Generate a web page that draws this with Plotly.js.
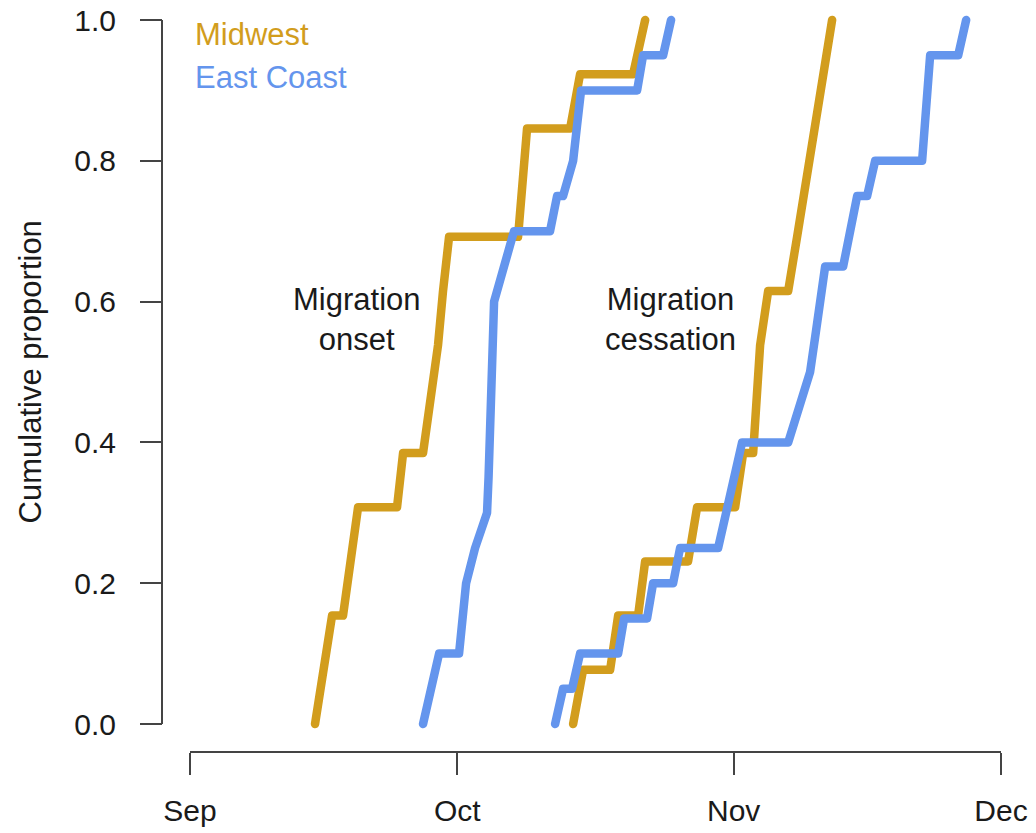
<!DOCTYPE html>
<html>
<head>
<meta charset="utf-8">
<script src="https://cdn.plot.ly/plotly-3.0.1.min.js"></script>
<style>
html, body { margin: 0; padding: 0; background: #ffffff; }
#chart { width: 1036px; height: 833px; }
.scatterlayer path.js-line { stroke-linecap: round; stroke-linejoin: round; }
</style>
</head>
<body>
<div id="chart"></div>
<script>
// Days after 1 September and cumulative proportions
const midwestOnsetDays = [14.03, 15.94, 17.17, 18.86, 23.23, 23.91, 26.15, 27.05, 27.83, 28.39, 29.07, 36.81, 37.26, 37.82, 42.65, 43.77, 49.72, 51.07];
const midwestOnsetProp = [0, 0.154, 0.154, 0.308, 0.308, 0.385, 0.385, 0.462, 0.538, 0.615, 0.692, 0.692, 0.769, 0.846, 0.846, 0.923, 0.923, 1];

const eastOnsetDays = [26.15, 27.95, 30.19, 30.98, 31.99, 33.33, 33.50, 33.61, 33.73, 33.84, 33.95, 34.12, 35.24, 36.36, 40.40, 41.19, 41.86, 42.99, 43.43, 43.88, 50.17, 50.84, 53.09, 53.98];
const eastOnsetProp = [0, 0.1, 0.1, 0.2, 0.25, 0.3, 0.35, 0.4, 0.45, 0.5, 0.55, 0.6, 0.65, 0.7, 0.7, 0.75, 0.75, 0.8, 0.85, 0.9, 0.9, 0.95, 0.95, 1];

const midwestCessDays = [42.99, 44.11, 47.14, 48.04, 50.28, 51.07, 55.89, 56.90, 61.17, 62.07, 63.19, 63.52, 63.97, 64.87, 67.12, 68.12, 69.14, 70.03, 71.04, 72.05];
const midwestCessProp = [0, 0.077, 0.077, 0.154, 0.154, 0.231, 0.231, 0.308, 0.308, 0.385, 0.385, 0.462, 0.538, 0.615, 0.615, 0.692, 0.769, 0.846, 0.923, 1];

const eastCessDays = [40.97, 41.86, 42.87, 43.77, 48.04, 48.71, 51.29, 51.96, 54.21, 54.99, 59.26, 60.16, 61.05, 61.95, 67.12, 68.46, 69.58, 70.15, 70.71, 71.27, 73.29, 74.07, 74.86, 75.98, 76.88, 82.15, 82.49, 82.83, 83.05, 86.20, 87.09];
const eastCessProp = [0, 0.05, 0.05, 0.1, 0.1, 0.15, 0.15, 0.2, 0.2, 0.25, 0.25, 0.3, 0.35, 0.4, 0.4, 0.45, 0.5, 0.55, 0.6, 0.65, 0.65, 0.7, 0.75, 0.75, 0.8, 0.8, 0.85, 0.9, 0.95, 0.95, 1];

const monthTicks = ['2015-09-01', '2015-10-01', '2015-11-01', '2015-12-01'];
const monthLabels = ['Sep', 'Oct', 'Nov', 'Dec'];
const yTicks = [0, 0.2, 0.4, 0.6, 0.8, 1.0];
const yLabels = ['0.0', '0.2', '0.4', '0.6', '0.8', '1.0'];

const seriesNames = ['Midwest', 'East Coast'];
const GOLD = '#D29D1D';
const BLUE = '#6495ED';

const base = Date.UTC(2015, 8, 1);
const toDate = days => days.map(d => base + d * 86400000);

// Geometry (pixel targets)
const W = 1036, H = 833;
const px = { yAxisX: 162, xStart: 190, xEnd: 1001, xAxisY: 752, y0: 724, y1: 20, top: 9 };
const mL = px.yAxisX, mR = W - px.xEnd, mT = px.top, mB = H - px.xAxisY;
const pw = W - mL - mR, ph = H - mT - mB;
const perUnit = px.y0 - px.y1;
const yPad = 0.015;
const yBottomPx = px.y0 + yPad * perUnit;
const yDomain = [(px.xAxisY - yBottomPx) / ph, 1];
const yRange = [-yPad, (px.y0 - mT) / perUnit];
const xDomain = [(px.xStart - mL) / pw, 1];

const FONT = 'Liberation Sans, Arial, Helvetica, sans-serif';
const AX = '#444444';

function trace(days, prop, color, name) {
  return {
    type: 'scatter', mode: 'lines',
    x: toDate(days), y: prop,
    line: { color: color, width: 8.5 },
    name: name, showlegend: false, hoverinfo: 'skip'
  };
}

const data = [
  trace(midwestOnsetDays, midwestOnsetProp, GOLD, seriesNames[0]),
  trace(midwestCessDays, midwestCessProp, GOLD, seriesNames[0]),
  trace(eastOnsetDays, eastOnsetProp, BLUE, seriesNames[1]),
  trace(eastCessDays, eastCessProp, BLUE, seriesNames[1])
];

const layout = {
  width: W, height: H,
  margin: { l: mL, r: mR, t: mT, b: mB, pad: 0 },
  paper_bgcolor: '#ffffff', plot_bgcolor: '#ffffff',
  font: { family: FONT, size: 30, color: '#1a1a1a' },
  showlegend: false,
  xaxis: {
    type: 'date',
    range: ['2015-09-01', '2015-12-01'],
    domain: xDomain,
    anchor: 'free', position: 0,
    showline: true, linecolor: AX, linewidth: 2,
    ticks: 'outside', ticklen: 22, tickwidth: 2, tickcolor: AX,
    tickmode: 'array', tickvals: monthTicks, ticktext: monthLabels,
    tickfont: { family: FONT, size: 30, color: '#1a1a1a' },
    ticklabelstandoff: 10,
    showgrid: false, zeroline: false, fixedrange: true
  },
  yaxis: {
    range: yRange,
    domain: yDomain,
    anchor: 'free', position: 0,
    showline: false,
    ticks: 'outside', ticklen: 22, tickwidth: 2, tickcolor: AX,
    tickmode: 'array', tickvals: yTicks, ticktext: yLabels,
    tickfont: { family: FONT, size: 30, color: '#1a1a1a' },
    ticklabelstandoff: 18,
    showgrid: false, zeroline: false, fixedrange: true,
    title: { text: 'Cumulative proportion', font: { family: FONT, size: 31, color: '#1a1a1a' }, standoff: 22 }
  },
  shapes: [
    { type: 'line', xref: 'paper', yref: 'y', x0: 0, x1: 0, y0: 0, y1: 1,
      line: { color: AX, width: 2 } }
  ],
  annotations: [
    { text: 'Migration<br>onset', xref: 'x', yref: 'y', x: '2015-09-19 18:00', y: 0.575,
      showarrow: false, font: { family: FONT, size: 31, color: '#1a1a1a' } },
    { text: 'Migration<br>cessation', xref: 'x', yref: 'y', x: '2015-10-24 21:00', y: 0.575,
      showarrow: false, font: { family: FONT, size: 31, color: '#1a1a1a' } },
    { text: seriesNames[0], xref: 'paper', yref: 'y', x: (193 - mL) / pw, y: 0.979, xanchor: 'left',
      showarrow: false, font: { family: FONT, size: 31, color: GOLD } },
    { text: seriesNames[1], xref: 'paper', yref: 'y', x: (193 - mL) / pw, y: 0.919, xanchor: 'left',
      showarrow: false, font: { family: FONT, size: 31, color: BLUE } }
  ]
};

Plotly.newPlot('chart', data, layout, { staticPlot: true, displayModeBar: false });
</script>
</body>
</html>
